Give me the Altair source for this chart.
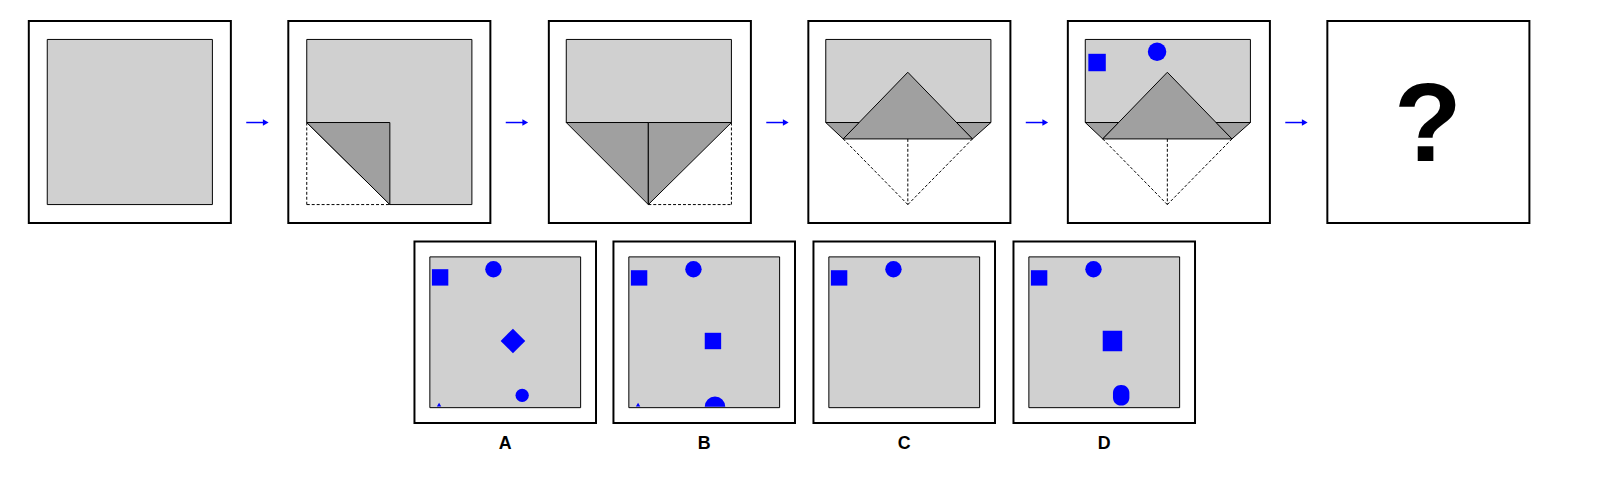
import altair as alt
import pandas as pd

W, H = 1610, 490
K = 1.036  # reading scale of measured coordinates
G, D = "#d0d0d0", "#a0a0a0"
B = "#0000ff"

top_x = [28, 281, 535, 788, 1041, 1294]
top_y, top_s, top_in = 18, 197, 18
opt_x = [404, 598, 793, 988]
opt_y, opt_s, opt_in = 233, 177, 15
opt_labels = ["A", "B", "C", "D"]
arrow_x = [251, 504, 758, 1011, 1264]

polys = [
    ("p1", G, [(46, 36), (207, 36), (207, 197), (46, 197)]),
    ("p2a", G, [(299, 36), (460, 36), (460, 197), (380, 197), (299, 117)]),
    ("p2b", D, [(299, 117), (380, 117), (380, 197)]),
    ("p3a", G, [(552, 36), (713, 36), (713, 117), (552, 117)]),
    ("p3b", D, [(552, 117), (632, 117), (632, 197)]),
    ("p3c", D, [(632, 117), (713, 117), (632, 197)]),
]
for k, dx in enumerate([0, 253]):
    polys += [
        (f"q{k}a", G, [(805 + dx, 36), (966 + dx, 36), (966 + dx, 117), (805 + dx, 117)]),
        (f"q{k}b", D, [(805 + dx, 117), (838 + dx, 117), (822 + dx, 133)]),
        (f"q{k}c", D, [(966 + dx, 117), (932 + dx, 117), (948 + dx, 133)]),
        (f"q{k}d", D, [(885 + dx, 68), (822 + dx, 133), (948 + dx, 133)]),
    ]
for i, x in enumerate(opt_x):
    a, b = x + opt_in, x + opt_s - opt_in
    polys.append((f"o{i}", G, [(a, opt_y + opt_in), (b, opt_y + opt_in), (b, opt_y + opt_s - opt_in), (a, opt_y + opt_s - opt_in)]))

dashes = [(299, 117, 299, 197), (299, 197, 380, 197),
          (713, 117, 713, 197), (632, 197, 713, 197)]
for dx in [0, 253]:
    dashes += [(822 + dx, 133, 885 + dx, 197), (948 + dx, 133, 885 + dx, 197), (885 + dx, 133, 885 + dx, 197)]

sq = [(1061, 50, 1078, 67), (421, 260, 437, 276), (615, 261, 631, 276), (687, 322, 703, 338),
      (810, 261, 826, 276), (1005, 261, 1021, 276), (1075, 320, 1094, 340)]
circ = [(1128, 48, 18), (481, 260, 16), (509, 383, 13), (676, 260, 16), (871, 260, 16), (1066, 260, 16)]
diam = [(500, 330, 24)]
tri = [(428, 392), (622, 392)]

rows = []
for pid, f, pts in polys:
    pts = pts + [pts[0]]
    for j, (x, y) in enumerate(pts):
        rows.append({"id": pid, "o": j, "x": x, "y": y, "f": f})
pdf = pd.DataFrame(rows)

xs = alt.Scale(domain=[8 / K, (8 + W) / K], range=[0, W])
ys = alt.Scale(domain=[8 / K, (8 + H) / K], range=[0, H])
X = lambda c: alt.X(c, scale=xs, axis=None)
Y = lambda c: alt.Y(c, scale=ys, axis=None)

frames = pd.DataFrame([{"x": x, "y": top_y, "x2": x + top_s, "y2": top_y + top_s} for x in top_x] +
                      [{"x": x, "y": opt_y, "x2": x + opt_s, "y2": opt_y + opt_s} for x in opt_x])
frame_l = alt.Chart(frames).mark_rect(fill="white", stroke="black", strokeWidth=2).encode(
    x=X("x:Q"), y=Y("y:Q"), x2="x2:Q", y2="y2:Q")

poly_l = alt.Chart(pdf).mark_line(stroke="black", strokeWidth=1, interpolate="linear").encode(
    x=X("x:Q"), y=Y("y:Q"), detail="id:N", order="o:Q", fill=alt.Fill("f:N", scale=None))

dash_l = alt.Chart(pd.DataFrame(dashes, columns=["x", "y", "x2", "y2"])).mark_rule(
    stroke="black", strokeDash=[3, 2], strokeWidth=1).encode(x=X("x:Q"), y=Y("y:Q"), x2="x2:Q", y2="y2:Q")

sq_l = alt.Chart(pd.DataFrame(sq, columns=["x", "y", "x2", "y2"])).mark_rect(fill=B).encode(
    x=X("x:Q"), y=Y("y:Q"), x2="x2:Q", y2="y2:Q")

cdf = pd.DataFrame(circ, columns=["x", "y", "d"]); cdf["s"] = (cdf.d * K) ** 2
circ_l = alt.Chart(cdf).mark_point(shape="circle", filled=True, fill=B, opacity=1, strokeWidth=0).encode(
    x=X("x:Q"), y=Y("y:Q"), size=alt.Size("s:Q", scale=None))
ddf = pd.DataFrame(diam, columns=["x", "y", "d"]); ddf["s"] = (ddf.d * K) ** 2
diam_l = alt.Chart(ddf).mark_point(shape="diamond", filled=True, fill=B, opacity=1, strokeWidth=0).encode(
    x=X("x:Q"), y=Y("y:Q"), size=alt.Size("s:Q", scale=None))
tri_l = alt.Chart(pd.DataFrame(tri, columns=["x", "y"])).mark_point(
    shape="triangle-up", filled=True, fill=B, opacity=1, size=20).encode(x=X("x:Q"), y=Y("y:Q"))

semi_l = alt.Chart(pd.DataFrame([{"x": 697, "y": 394}])).mark_arc(
    fill=B, radius=10 * K, theta=4.712, theta2=7.854).encode(x=X("x:Q"), y=Y("y:Q"))
ell_l = alt.Chart(pd.DataFrame([{"x": 1085, "y": 373, "x2": 1101, "y2": 393}])).mark_rect(
    fill=B, cornerRadius=8).encode(x=X("x:Q"), y=Y("y:Q"), x2="x2:Q", y2="y2:Q")

adf = pd.DataFrame({"x": [a - 11 for a in arrow_x], "x2": [a + 8 for a in arrow_x], "y": [117] * 5})
arr_l = alt.Chart(adf).mark_rule(stroke=B, strokeWidth=1.5).encode(x=X("x:Q"), x2="x2:Q", y=Y("y:Q"))
ahd = pd.DataFrame({"x": [a + 8 for a in arrow_x], "y": [117] * 5})
head_l = alt.Chart(ahd).mark_point(shape="triangle-right", filled=True, fill=B, opacity=1, size=45).encode(
    x=X("x:Q"), y=Y("y:Q"))

q_l = alt.Chart(pd.DataFrame([{"x": 1392, "y": 122, "t": "?"}])).mark_text(
    fontSize=112, fontWeight="bold", font="Liberation Sans", baseline="middle").encode(
    x=X("x:Q"), y=Y("y:Q"), text="t:N")
ldf = pd.DataFrame({"x": [x + opt_s / 2 for x in opt_x], "y": [430] * 4, "t": opt_labels})
lab_l = alt.Chart(ldf).mark_text(fontSize=18, fontWeight="bold", font="Liberation Sans", baseline="middle").encode(
    x=X("x:Q"), y=Y("y:Q"), text="t:N")

chart = alt.layer(frame_l, poly_l, dash_l, sq_l, circ_l, diam_l, tri_l, semi_l, ell_l,
                  arr_l, head_l, q_l, lab_l).properties(
    width=W, height=H, autosize="none", padding=0).configure_view(stroke=None)
chart.save("out.html", embed_options={"renderer": "svg", "actions": False})
